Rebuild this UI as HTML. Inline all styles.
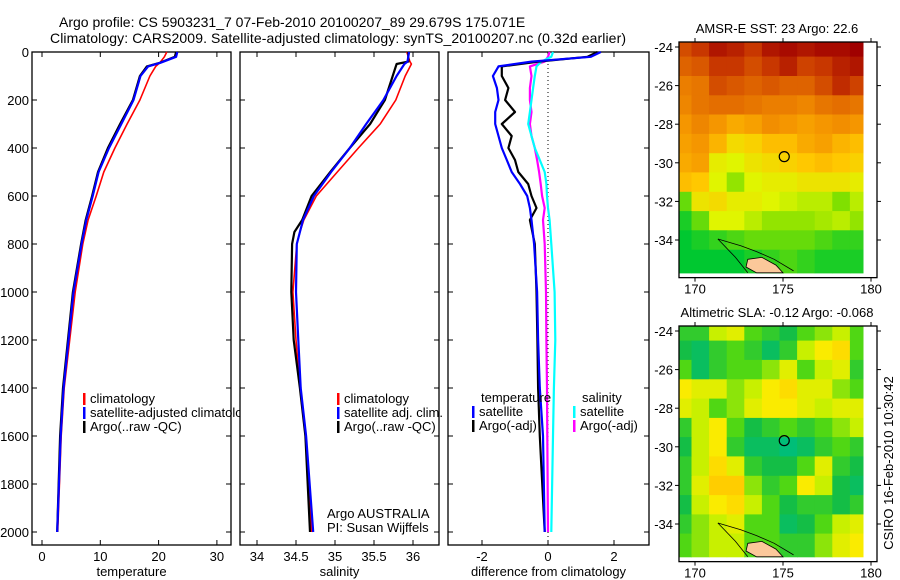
<!DOCTYPE html>
<html><head><meta charset="utf-8">
<style>
html,body{margin:0;padding:0;background:#fff;}
svg{display:block;font-family:"Liberation Sans",sans-serif;}
</style></head>
<body>
<svg id="fig" width="900" height="580" viewBox="0 0 900 580" xmlns="http://www.w3.org/2000/svg">
<rect width="900" height="580" fill="#fff"/>
<text x="59" y="27" font-size="14">Argo profile: CS 5903231_7 07-Feb-2010 20100207_89 29.679S 175.071E</text>
<text x="50" y="43" font-size="14" textLength="576">Climatology: CARS2009. Satellite-adjusted climatology: synTS_20100207.nc (0.32d earlier)</text>
<g id="plots"></g>
</svg>
<script>
// ---------- profile data ----------
const tDepth = [0, 20, 45, 60, 100, 200, 300, 400, 500, 600, 700, 800, 1000, 1400, 1600, 2000];
const tArgo  = [23.0, 22.8, 20.2, 18.0, 16.8, 15.6, 13.4, 11.3, 9.6, 8.6, 7.5, 6.7, 5.3, 3.6, 3.1, 2.6];
const tSat   = [23.2, 23.0, 20.3, 18.2, 16.9, 15.7, 13.6, 11.5, 9.7, 8.7, 7.6, 6.8, 5.4, 3.7, 3.2, 2.6];
const tClim  = [21.4, 21.0, 20.2, 19.5, 18.5, 16.8, 14.6, 12.5, 10.6, 9.3, 7.9, 7.0, 5.7, 3.8, 3.3, 2.7];

const sDepth = [0, 40, 50, 100, 200, 300, 400, 500, 600, 700, 750, 800, 1000, 1200, 1400, 1600, 2000];
const sArgo  = [35.94, 35.94, 35.79, 35.74, 35.64, 35.45, 35.19, 34.94, 34.70, 34.58, 34.48, 34.45, 34.44, 34.47, 34.55, 34.62, 34.68];
const sSat   = [35.95, 35.93, 35.89, 35.79, 35.62, 35.40, 35.19, 34.95, 34.73, 34.59, 34.55, 34.51, 34.50, 34.53, 34.56, 34.63, 34.72];
const sClim  = [35.92, 35.96, 35.98, 35.90, 35.78, 35.58, 35.30, 35.03, 34.76, 34.60, 34.55, 34.51, 34.46, 34.50, 34.55, 34.62, 34.70];

const dDepth   = [0, 20, 40, 60, 100, 150, 200, 250, 300, 350, 400, 450, 500, 550, 600, 650, 700, 800, 1000, 1200, 1400, 1600, 2000];
const dTempSat = [1.6, 1.3, -0.5, -1.5, -1.67, -1.55, -1.5, -1.6, -1.6, -1.5, -1.4, -1.25, -1.1, -0.85, -0.63, -0.55, -0.5, -0.42, -0.33, -0.3, -0.25, -0.15, -0.1];
const dTempArgo= [1.5, 1.2, -0.3, -1.4, -1.4, -1.2, -1.3, -1.0, -1.4, -1.1, -1.2, -1.0, -0.9, -0.6, -0.5, -0.35, -0.55, -0.4, -0.35, -0.32, -0.3, -0.25, -0.1];
const dSalSat  = [0.15, 0.1, -0.2, -0.35, -0.4, -0.45, -0.5, -0.55, -0.6, -0.5, -0.4, -0.25, -0.1, -0.05, -0.03, 0.0, 0.05, 0.1, 0.2, 0.22, 0.18, 0.15, 0.1];
const dSalArgo = [0.05, 0.0, -0.1, -0.55, -0.5, -0.55, -0.55, -0.5, -0.55, -0.5, -0.4, -0.33, -0.27, -0.22, -0.18, -0.1, -0.15, -0.1, -0.06, -0.05, -0.03, -0.02, 0.0];

const depthTicks = [0, 200, 400, 600, 800, 1000, 1200, 1400, 1600, 1800, 2000];
const tempTicks = [0, 10, 20, 30];
const salTicks = [34, 34.5, 35, 35.5, 36];
const salTickLabels = ["34", "34.5", "35", "35.5", "36"];
const diffTicks = [-2, 0, 2];

// ---------- map data ----------
const mapLons = [169.3, 170.3, 171.3, 172.3, 173.3, 174.3, 175.3, 176.3, 177.3, 178.3, 179.3];
const mapLats = [-24, -25, -26, -27, -28, -29, -30, -31, -32, -33, -34, -35];
const sstGrid = [
 [23.8,24,24.3,24.2,24,24.3,24.4,24.3,24.4,24.4,24.5],
 [23.6,23.7,24,24,23.8,24,24.2,23.9,24,24.2,24.3],
 [23.3,23.4,23.8,23.7,23.6,23.7,23.6,23.6,23.8,24.1,23.9],
 [23.2,23.4,23.5,23.5,23.4,23.3,23.3,23.2,23.4,23.5,23.4],
 [23,23.2,23,22.8,22.9,23.1,23,22.9,23,23.1,23.0],
 [22.9,23,22.7,22.3,22.4,22.6,22.6,22.8,22.9,22.7,22.6],
 [22.8,22.9,22.1,22.0,22.2,22.3,22.4,22.5,22.6,22.5,22.4],
 [22.6,22.5,22.0,21.6,22,22.1,22.1,22.2,22.2,22.2,22.1],
 [21.4,22.2,22.3,22.1,22.1,22.0,21.9,21.8,21.8,21.5,21.8],
 [21.1,21.4,22,22,21.8,21.6,21.6,21.6,21.7,21.8,21.6],
 [21,21.1,21.2,21.3,21.4,21.4,21.4,21.4,21.3,21.2,21.2],
 [21,21,21,21,21.1,21.2,21.3,21.2,21.1,21.1,21.1]
];
const slaGrid = [
 [-0.1,-0.1,0.05,0.1,-0.05,-0.1,-0.15,-0.05,0,0.05,-0.05],
 [-0.15,-0.2,-0.1,-0.05,-0.1,-0.2,-0.1,0.05,0.15,0.2,-0.05],
 [-0.05,-0.2,-0.1,-0.05,-0.05,0,0.1,-0.05,0.05,0.1,-0.1],
 [0.15,0.1,0.1,0,0.05,0.15,0.2,0.1,0.1,0,-0.05],
 [0.1,0.05,-0.05,0,0.1,0.15,0.15,0.1,0.05,0.1,0.1],
 [-0.1,0.05,0.15,-0.05,-0.15,-0.1,-0.05,-0.1,-0.05,0,0.05],
 [-0.15,0.05,0.15,-0.1,-0.2,-0.2,-0.25,-0.2,-0.1,-0.05,-0.1],
 [-0.1,0.05,0.2,0.1,-0.1,-0.15,-0.15,-0.05,0.1,-0.1,-0.15],
 [-0.1,0.1,0.25,0.25,0.0,-0.1,-0.05,0.15,0.05,-0.15,-0.2],
 [-0.15,0.05,0.15,0.2,0.05,-0.05,-0.15,-0.1,-0.1,-0.15,-0.1],
 [-0.1,0,0.05,0.1,-0.05,-0.05,-0.2,-0.15,-0.05,0.05,0.1],
 [-0.05,0,0.05,0.05,-0.05,-0.05,-0.1,-0.1,0,0.1,0.15]
];
const lonTicks = [170, 175, 180];
const latTicks = [-24, -26, -28, -30, -32, -34];
const floatLon = 175.071, floatLat = -29.679;

const NS = "http://www.w3.org/2000/svg";
const root = document.getElementById('plots');
function mk(tag, attrs, parent) {
  const e = document.createElementNS(NS, tag);
  for (const k in attrs) e.setAttribute(k, attrs[k]);
  (parent || root).appendChild(e);
  return e;
}
const yD = d => 52 + d * 0.24;

function panel(name, x0, x1, xScale, ticks, labels, title, showY) {
  const g = mk('g', {});
  
  
  const r = mk('rect', {x: x0, y: 52, width: x1 - x0, height: 493, fill: '#fff', stroke: '#000', 'stroke-width': 1.3}, g);
  
  
  depthTicks.forEach(d => {
    const y = yD(d);
    mk('line', {x1: x0, x2: x0 + 5, y1: y, y2: y, stroke: '#000'}, g);
    mk('line', {x1: x1, x2: x1 - 5, y1: y, y2: y, stroke: '#000'}, g);
    if (showY) {
      const t = mk('text', {x: x0 - 3, y: y + 5, 'font-size': 13, 'text-anchor': 'end'}, g);
      t.textContent = d;
      
      
    }
  });
  ticks.forEach((v, i) => {
    const x = xScale(v);
    mk('line', {x1: x, x2: x, y1: 52, y2: 57, stroke: '#000'}, g);
    mk('line', {x1: x, x2: x, y1: 545, y2: 540, stroke: '#000'}, g);
    const t = mk('text', {x: x, y: 561, 'font-size': 13, 'text-anchor': 'middle'}, g);
    t.textContent = labels[i];
    
    
  });
  const tt = mk('text', {x: (x0 + x1) / 2, y: 576, 'font-size': 13, 'text-anchor': 'middle'}, g);
  tt.textContent = title;
  
  
  return g;
}
function line(g, depths, vals, xs, color, w, name) {
  const pts = depths.map((d, i) => xs(vals[i]).toFixed(1) + ',' + yD(d).toFixed(1)).join(' ');
  const p = mk('polyline', {points: pts, fill: 'none', stroke: color, 'stroke-width': w, 'stroke-linejoin': 'round'}, g);
  
  
}
function legend(g, x, y, color, label, name) {
  mk('rect', {x: x, y: y - 10, width: 2.5, height: 12, fill: color}, g);
  const t = mk('text', {x: x + 7, y: y, 'font-size': 13}, g);
  t.textContent = label;
  
  
}

// panel 1 temperature
const xT = v => 42 + v * 5.83;
const p1 = panel('temperature-panel', 32, 231, xT, tempTicks, tempTicks.map(String), 'temperature', true);
line(p1, tDepth, tClim, xT, '#f00', 1.6, 'temperature-climatology-line');
line(p1, tDepth, tArgo, xT, '#000', 2.2, 'temperature-argo-line');
line(p1, tDepth, tSat, xT, '#00f', 2.2, 'temperature-satellite-line');
legend(p1, 83, 403, '#f00', 'climatology', 'legend-climatology');
legend(p1, 83, 417, '#00f', 'satellite-adjusted climatology', 'legend-satellite-adjusted');
legend(p1, 83, 431, '#000', 'Argo(..raw -QC)', 'legend-argo-raw');

// panel 2 salinity
const xS = v => 257 + (v - 34) * 78;
const p2 = panel('salinity-panel', 240, 439, xS, salTicks, salTickLabels, 'salinity', false);
line(p2, sDepth, sClim, xS, '#f00', 1.6, 'salinity-climatology-line');
line(p2, sDepth, sArgo, xS, '#000', 2.2, 'salinity-argo-line');
line(p2, sDepth, sSat, xS, '#00f', 2.2, 'salinity-satellite-line');
legend(p2, 337, 403, '#f00', 'climatology', 'legend-climatology');
legend(p2, 337, 417, '#00f', 'satellite adj. clim.', 'legend-satellite-adj');
legend(p2, 337, 431, '#000', 'Argo(..raw -QC)', 'legend-argo-raw');
let t = mk('text', {x: 327, y: 518, 'font-size': 13}, p2); t.textContent = 'Argo AUSTRALIA';
 
t = mk('text', {x: 327, y: 532, 'font-size': 13}, p2); t.textContent = 'PI: Susan Wijffels';
 

// panel 3 difference
const xDf = v => 548 + v * 33;
const p3 = panel('difference-panel', 448, 649, xDf, diffTicks, diffTicks.map(String), 'difference from climatology', false);
mk('line', {x1: xDf(0), x2: xDf(0), y1: 52, y2: 545, stroke: '#000', 'stroke-dasharray': '1,3'}, p3);
line(p3, dDepth, dSalArgo, xDf, '#f0f', 2.2, 'salinity-argo-diff-line');
line(p3, dDepth, dSalSat, xDf, '#0ff', 2.2, 'salinity-satellite-diff-line');
line(p3, dDepth, dTempArgo, xDf, '#000', 2.2, 'temperature-argo-diff-line');
line(p3, dDepth, dTempSat, xDf, '#00f', 2.2, 'temperature-satellite-diff-line');
t = mk('text', {x: 481, y: 402, 'font-size': 13}, p3); t.textContent = 'temperature';
 
t = mk('text', {x: 582, y: 402, 'font-size': 13}, p3); t.textContent = 'salinity';
 
legend(p3, 472, 416, '#00f', 'satellite', 'legend-temp-satellite');
legend(p3, 472, 430, '#000', 'Argo(-adj)', 'legend-temp-argo');
legend(p3, 573, 416, '#0ff', 'satellite', 'legend-sal-satellite');
legend(p3, 573, 430, '#f0f', 'Argo(-adj)', 'legend-sal-argo');

// ---------- maps ----------
function lerpColor(stops, v) {
  let c;
  if (v <= stops[0][0]) c = stops[0][1];
  else if (v >= stops[stops.length - 1][0]) c = stops[stops.length - 1][1];
  else {
    for (let i = 1; i < stops.length; i++) {
      if (v <= stops[i][0]) {
        const a = stops[i - 1], b = stops[i], f = (v - a[0]) / (b[0] - a[0]);
        c = a[1].map((x, k) => Math.round(x + (b[1][k] - x) * f));
        break;
      }
    }
  }
  return 'rgb(' + c.join(',') + ')';
}
const sstStops = [[21, [0, 200, 48]], [21.5, [128, 224, 0]], [22, [224, 245, 0]], [22.5, [255, 200, 0]], [23, [245, 150, 0]], [23.5, [228, 110, 0]], [24, [200, 55, 0]], [24.5, [160, 0, 0]]];
const slaStops = [[-0.25, [0, 190, 120]], [-0.15, [20, 190, 70]], [-0.05, [80, 215, 20]], [0.05, [200, 240, 0]], [0.15, [250, 235, 0]], [0.25, [255, 205, 0]]];

function mapPanel(name, top, title, grid, stops) {
  const g = mk('g', {});
  
  
  const bx0 = 679, bx1 = 877;
  const lonX = lon => 695 + (lon - 170) * 17.6;
  const latY = lat => top + 5 + (-24 - lat) * 19.3;
  const boxTop = top, boxBot = latY(-35.95);
  const imgBot = latY(-35.7);
  mk('rect', {x: bx0, y: boxTop, width: bx1 - bx0, height: boxBot - boxTop, fill: '#fff'}, g);
  grid.forEach((row, i) => {
    row.forEach((v, j) => {
      const x0 = j === 0 ? bx0 : lonX(mapLons[j] - 0.5);
      const x1 = j === row.length - 1 ? 863 : lonX(mapLons[j] + 0.5);
      const y0 = i === 0 ? boxTop : latY(mapLats[i] + 0.5);
      const y1 = i === grid.length - 1 ? imgBot : latY(mapLats[i] - 0.5);
      const c = mk('rect', {x: x0.toFixed(1), y: y0.toFixed(1), width: (x1 - x0 + 0.5).toFixed(1), height: (y1 - y0 + 0.5).toFixed(1), fill: lerpColor(stops, v)}, g);
      
      
    });
  });
  const land = mk('polygon', {points: [[173.0, -35.0], [173.8, -34.9], [174.6, -35.3], [175.0, -35.7], [173.5, -35.7], [172.9, -35.4]].map(p => lonX(p[0]) + ',' + latY(p[1])).join(' '), fill: '#fbc89a', stroke: '#000', 'stroke-width': 0.8}, g);
  
  
  const coast = mk('polyline', {points: [[171.3, -33.95], [172.6, -34.3], [173.5, -34.6], [174.5, -35.0], [175.6, -35.6]].map(p => lonX(p[0]) + ',' + latY(p[1])).join(' '), fill: 'none', stroke: '#000', 'stroke-width': 0.8}, g);
  
  
  const coast2 = mk('polyline', {points: [[171.3, -33.95], [172.3, -34.9], [173.0, -35.7]].map(p => lonX(p[0]) + ',' + latY(p[1])).join(' '), fill: 'none', stroke: '#000', 'stroke-width': 0.8}, g);
  
  
  const fr = mk('rect', {x: bx0, y: boxTop, width: bx1 - bx0, height: boxBot - boxTop, fill: 'none', stroke: '#000', 'stroke-width': 1.3}, g);
  
  
  latTicks.forEach(l => {
    const y = latY(l);
    mk('line', {x1: bx0, x2: bx0 - 4, y1: y, y2: y, stroke: '#000'}, g);
    mk('line', {x1: bx1, x2: bx1 + 4, y1: y, y2: y, stroke: '#000'}, g);
    const tx = mk('text', {x: 673, y: y + 5, 'font-size': 13, 'text-anchor': 'end'}, g);
    tx.textContent = l;
    
    
  });
  lonTicks.forEach(l => {
    const x = lonX(l);
    mk('line', {x1: x, x2: x, y1: boxBot, y2: boxBot + 4, stroke: '#000'}, g);
    mk('line', {x1: x, x2: x, y1: boxTop, y2: boxTop - 4, stroke: '#000'}, g);
    const tx = mk('text', {x: x, y: boxBot + 16, 'font-size': 13, 'text-anchor': 'middle'}, g);
    tx.textContent = l;
    
    
  });
  const c = mk('circle', {cx: lonX(floatLon), cy: latY(floatLat), r: 5, fill: 'none', stroke: '#000', 'stroke-width': 1.2}, g);
  
  
  const tt = mk('text', {x: 777, y: top - 9, 'font-size': 13, 'text-anchor': 'middle'}, g);
  tt.textContent = title;
  
  
}
mapPanel('sst-map', 42, 'AMSR-E SST: 23 Argo: 22.6', sstGrid, sstStops);
mapPanel('sla-map', 326, 'Altimetric SLA: -0.12 Argo: -0.068', slaGrid, slaStops);
t = mk('text', {x: 0, y: 0, 'font-size': 13, 'text-anchor': 'middle', transform: 'translate(893,463) rotate(-90)'});
t.textContent = 'CSIRO 16-Feb-2010 10:30:42';


</script>
</body></html>
